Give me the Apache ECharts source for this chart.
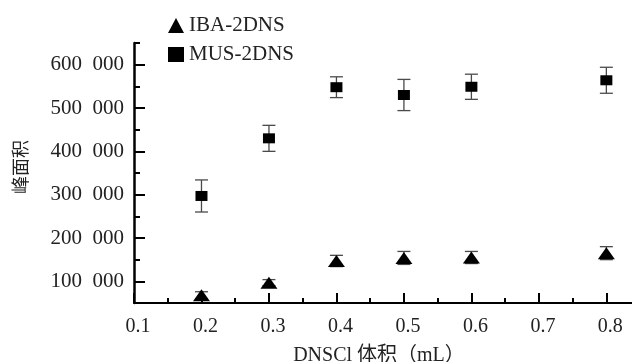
<!DOCTYPE html>
<html><head><meta charset="utf-8">
<script src="https://cdn.jsdelivr.net/npm/echarts@6/dist/echarts.min.js"></script>
<style>html,body{margin:0;padding:0;background:#fff}#c{width:632px;height:362px}</style>
</head><body><div id="c"></div>
<script>
const xValues = [0.2, 0.3, 0.4, 0.5, 0.6, 0.8];
const musMean = [297000, 430000, 548000, 530000, 549000, 564000];
const musErr  = [37000, 30000, 24000, 36000, 29000, 30000];
const ibaMean = [68000, 97000, 147000, 154000, 155000, 165000];
const ibaErr  = [8000, 7000, 13000, 15000, 14000, 15000];
const xTickLabels = [0.1, 0.2, 0.3, 0.4, 0.5, 0.6, 0.7, 0.8];
const xMinorTicks = [0.15, 0.25, 0.35, 0.45, 0.55, 0.65, 0.75];
const yTickLabels = [100000, 200000, 300000, 400000, 500000, 600000];
const yMinorTicks = [150000, 250000, 350000, 450000, 550000, 650000];
const seriesNames = ['IBA-2DNS', 'MUS-2DNS'];
const xName = 'DNSCl 体积（mL）';
const yName = '峰面积';

const serif = '"Liberation Serif", "DejaVu Serif", serif';
const cjk = '"Liberation Serif", "Noto Sans CJK SC", serif';

function errData(mean, err) {
  return xValues.map((x, i) => [x, mean[i] - err[i], mean[i] + err[i]]);
}
function errRender(params, api) {
  const x = api.value(0);
  const lo = api.coord([x, api.value(1)]);
  const hi = api.coord([x, api.value(2)]);
  const hw = 6.5;
  const style = { stroke: '#4a4a4a', lineWidth: 1.3 };
  return {
    type: 'group',
    children: [
      { type: 'line', shape: { x1: lo[0], y1: lo[1], x2: hi[0], y2: hi[1] }, style },
      { type: 'line', shape: { x1: hi[0] - hw, y1: hi[1], x2: hi[0] + hw, y2: hi[1] }, style },
      { type: 'line', shape: { x1: lo[0] - hw, y1: lo[1], x2: lo[0] + hw, y2: lo[1] }, style }
    ]
  };
}

const chart = echarts.init(document.getElementById('c'), null, { renderer: 'canvas' });
chart.setOption({
  backgroundColor: '#fff',
  animation: false,
  grid: { left: 134, right: 0, top: 43, bottom: 59, containLabel: false, outerBoundsMode: 'none' },
  legend: {
    orient: 'vertical', left: 163, top: 10, itemGap: 8,
    itemWidth: 16, itemHeight: 15,
    textStyle: { fontFamily: serif, fontSize: 21, color: '#222' },
    data: [
      { name: seriesNames[0], icon: 'triangle' },
      { name: seriesNames[1], icon: 'rect' }
    ]
  },
  xAxis: [
    {
      type: 'value', min: 0.1, max: 0.838, interval: 0.1,
      name: xName, nameLocation: 'middle', nameGap: 43,
      nameTextStyle: { fontFamily: cjk, fontSize: 20, color: '#222', padding: [0, 8, 0, 0] },
      axisLine: { show: true, onZero: false, lineStyle: { color: '#000', width: 2 } },
      axisTick: { show: true, inside: true, length: 10, lineStyle: { width: 2, color: '#000' }, customValues: xTickLabels },
      axisLabel: { margin: 14, fontFamily: serif, fontSize: 20, color: '#222', padding: [0, 0, 0, 8],
        customValues: xTickLabels, formatter: v => Number(v).toFixed(1) },
      splitLine: { show: false }
    },
    {
      type: 'value', min: 0.1, max: 0.838, position: 'bottom',
      axisLine: { show: false },
      axisTick: { show: true, inside: true, length: 5, lineStyle: { width: 2, color: '#000' }, customValues: xMinorTicks },
      axisLabel: { show: false },
      splitLine: { show: false }
    }
  ],
  yAxis: [
    {
      type: 'value', min: 50000, max: 650000,
      name: yName, nameLocation: 'middle', nameGap: 103,
      nameTextStyle: { fontFamily: cjk, fontSize: 18, color: '#222', padding: [0, 0, 0, 12] },
      axisLine: { show: true, onZero: false, lineStyle: { color: '#000', width: 2.5 } },
      axisTick: { show: true, inside: true, length: 11, lineStyle: { width: 2, color: '#000' }, customValues: yTickLabels },
      axisLabel: { margin: 10, fontFamily: serif, fontSize: 21, color: '#222',
        customValues: yTickLabels,
        formatter: v => { const s = String(Math.round(v)); return s.slice(0, s.length - 3) + '\u2002' + s.slice(-3); } },
      splitLine: { show: false }
    },
    {
      type: 'value', min: 50000, max: 650000, position: 'left',
      axisLine: { show: false },
      axisTick: { show: true, inside: true, length: 6, lineStyle: { width: 2, color: '#000' }, customValues: yMinorTicks },
      axisLabel: { show: false },
      splitLine: { show: false }
    }
  ],
  series: [
    {
      type: 'custom', name: 'iba-err', renderItem: errRender, z: 1,
      data: errData(ibaMean, ibaErr), encode: { x: 0, y: [1, 2] }, silent: true
    },
    {
      type: 'custom', name: 'mus-err', renderItem: errRender, z: 1,
      data: errData(musMean, musErr), encode: { x: 0, y: [1, 2] }, silent: true
    },
    {
      type: 'scatter', name: seriesNames[0], symbol: 'triangle', symbolSize: [17, 12], z: 3,
      itemStyle: { color: '#000', opacity: 1 },
      data: xValues.map((x, i) => [x, ibaMean[i]])
    },
    {
      type: 'scatter', name: seriesNames[1], symbol: 'rect', symbolSize: [12, 10], z: 3,
      itemStyle: { color: '#000', opacity: 1 },
      data: xValues.map((x, i) => [x, musMean[i]])
    }
  ]
});
</script>
</body></html>
